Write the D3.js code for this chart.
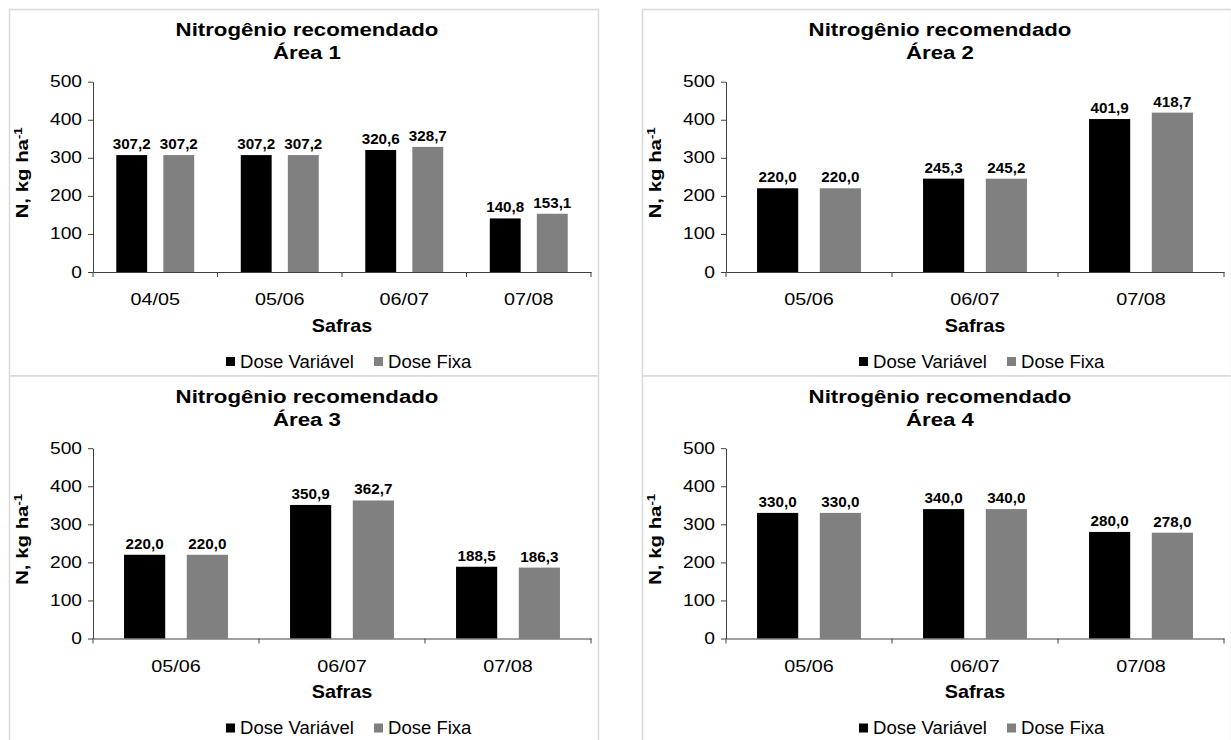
<!DOCTYPE html>
<html>
<head>
<meta charset="utf-8">
<script src="https://cdn.jsdelivr.net/npm/d3@7"></script>
<style>
  html, body { margin: 0; padding: 0; background: #fff; }
  svg { display: block; }
</style>
</head>
<body>
<svg id="chart" width="1231" height="740"></svg>
<script>
// Recommended nitrogen (N, kg/ha) per harvest season, variable vs fixed dose
const areaNames = ["Área 1", "Área 2", "Área 3", "Área 4"];
const safrasArea1 = ["04/05", "05/06", "06/07", "07/08"];
const safrasOther = ["05/06", "06/07", "07/08"];
const variavelArea1 = [307.2, 307.2, 320.6, 140.8];
const fixaArea1 = [307.2, 307.2, 328.7, 153.1];
const variavelArea2 = [220.0, 245.3, 401.9];
const fixaArea2 = [220.0, 245.2, 418.7];
const variavelArea3 = [220.0, 350.9, 188.5];
const fixaArea3 = [220.0, 362.7, 186.3];
const variavelArea4 = [330.0, 340.0, 280.0];
const fixaArea4 = [330.0, 340.0, 278.0];
const yTickValues = [0, 100, 200, 300, 400, 500];
const seriesNames = ["Dose Variável", "Dose Fixa"];
const seriesColors = ["#000000", "#808080"];

const panels = [
  { title: areaNames[0], cats: safrasArea1, vals: [variavelArea1, fixaArea1], x: 9.5, y: 9.5 },
  { title: areaNames[1], cats: safrasOther, vals: [variavelArea2, fixaArea2], x: 642.5, y: 9.5 },
  { title: areaNames[2], cats: safrasOther, vals: [variavelArea3, fixaArea3], x: 9.5, y: 376 },
  { title: areaNames[3], cats: safrasOther, vals: [variavelArea4, fixaArea4], x: 642.5, y: 376 }
];

const PW = 589, PH = 366.5;
const plot = { left: 83.5, right: 581.5, top: 72.2, bottom: 262.5 };
const FONT = "'Liberation Sans', Arial, sans-serif";
const fmt = v => v.toFixed(1).replace(".", ",");

const svg = d3.select("#chart");

// text drawn with a horizontal stretch factor (wide Excel-style lettering)
function stretchText(parent, x, y, txt, o) {
  return parent.append("text")
    .attr("transform", `translate(${x},${y}) scale(${o.sx || 1},1)`)
    .attr("text-anchor", o.anchor || "middle")
    .attr("font-family", FONT)
    .attr("font-weight", o.bold ? "bold" : "normal")
    .attr("font-size", o.size)
    .attr("fill", "#000")
    .text(txt);
}

function drawPanel(p) {
  const g = svg.append("g").attr("transform", `translate(${p.x},${p.y})`);

  g.append("rect")
    .attr("x", 0).attr("y", 0).attr("width", PW).attr("height", PH)
    .attr("fill", "#fff").attr("stroke", "#d9d9d9").attr("stroke-width", 1.5);

  const x = d3.scaleBand().domain(p.cats).range([plot.left, plot.right]);
  const bw = x.bandwidth();
  const sub = d3.scaleBand().domain([0, 1]).range([0.187 * bw, 0.813 * bw]).paddingInner(0.344);
  const y = d3.scaleLinear().domain([0, 500]).range([plot.bottom, plot.top]);

  // y axis line and ticks
  const yAxis = g.append("g").attr("transform", `translate(${plot.left},0)`)
    .call(d3.axisLeft(y).tickValues(yTickValues).tickSize(5).tickSizeOuter(0).tickFormat(""));
  yAxis.select(".domain").attr("stroke", "#404040");
  yAxis.selectAll(".tick line").attr("stroke", "#404040");
  yTickValues.forEach(v => {
    stretchText(g, plot.left - 11, y(v) + 5.5, String(v), { size: 16, sx: 1.2, anchor: "end" });
  });

  // bars with value labels
  p.vals.forEach((series, si) => {
    g.selectAll(null).data(series).enter().append("rect")
      .attr("x", (d, i) => x(p.cats[i]) + sub(si))
      .attr("y", d => y(d))
      .attr("width", sub.bandwidth())
      .attr("height", d => y(0) - y(d))
      .attr("fill", seriesColors[si]);
    series.forEach((d, i) => {
      stretchText(g, x(p.cats[i]) + sub(si) + sub.bandwidth() / 2, y(d) - 6, fmt(d),
        { size: 14.5, sx: 1.05, bold: true });
    });
  });

  // x axis line with category separators
  const xAxis = g.append("g").attr("transform", `translate(0,${plot.bottom})`)
    .call(d3.axisBottom(x).tickSize(0).tickFormat(""));
  xAxis.select(".domain").attr("stroke", "#404040");
  const edges = p.cats.map(c => x(c)).concat([plot.right]);
  g.selectAll(null).data(edges).enter().append("line")
    .attr("x1", d => d).attr("x2", d => d)
    .attr("y1", plot.bottom).attr("y2", plot.bottom + 5)
    .attr("stroke", "#404040");
  p.cats.forEach(c => {
    stretchText(g, x(c) + bw / 2, 295.5, c, { size: 16.5, sx: 1.2 });
  });

  const cx = (plot.left + plot.right) / 2;

  // titles
  stretchText(g, PW / 2 + 3, 26.5, "Nitrogênio recomendado", { size: 19, sx: 1.17, bold: true });
  stretchText(g, PW / 2 + 3, 49.5, p.title, { size: 19, sx: 1.17, bold: true });

  stretchText(g, cx, 322, "Safras", { size: 18, sx: 1.1, bold: true });

  // y axis title
  const yt = g.append("text")
    .attr("transform", `translate(18,${(plot.top + plot.bottom) / 2 - 4}) rotate(-90) scale(1.2,1)`)
    .attr("text-anchor", "middle").attr("font-family", FONT).attr("font-weight", "bold").attr("font-size", 17);
  yt.append("tspan").text("N, kg ha");
  yt.append("tspan").attr("font-size", 11).attr("dy", -6).text("-1");

  // legend
  const lg = g.append("g").attr("transform", `translate(${cx},347.5)`);
  const offsets = [-116, 32];
  seriesNames.forEach((name, i) => {
    lg.append("rect").attr("x", offsets[i]).attr("y", 0).attr("width", 9).attr("height", 9)
      .attr("fill", seriesColors[i]);
    stretchText(lg, offsets[i] + 14, 10.5, name, { size: 17.5, sx: 1.06, anchor: "start" });
  });
}

panels.forEach(drawPanel);
</script>
</body>
</html>
